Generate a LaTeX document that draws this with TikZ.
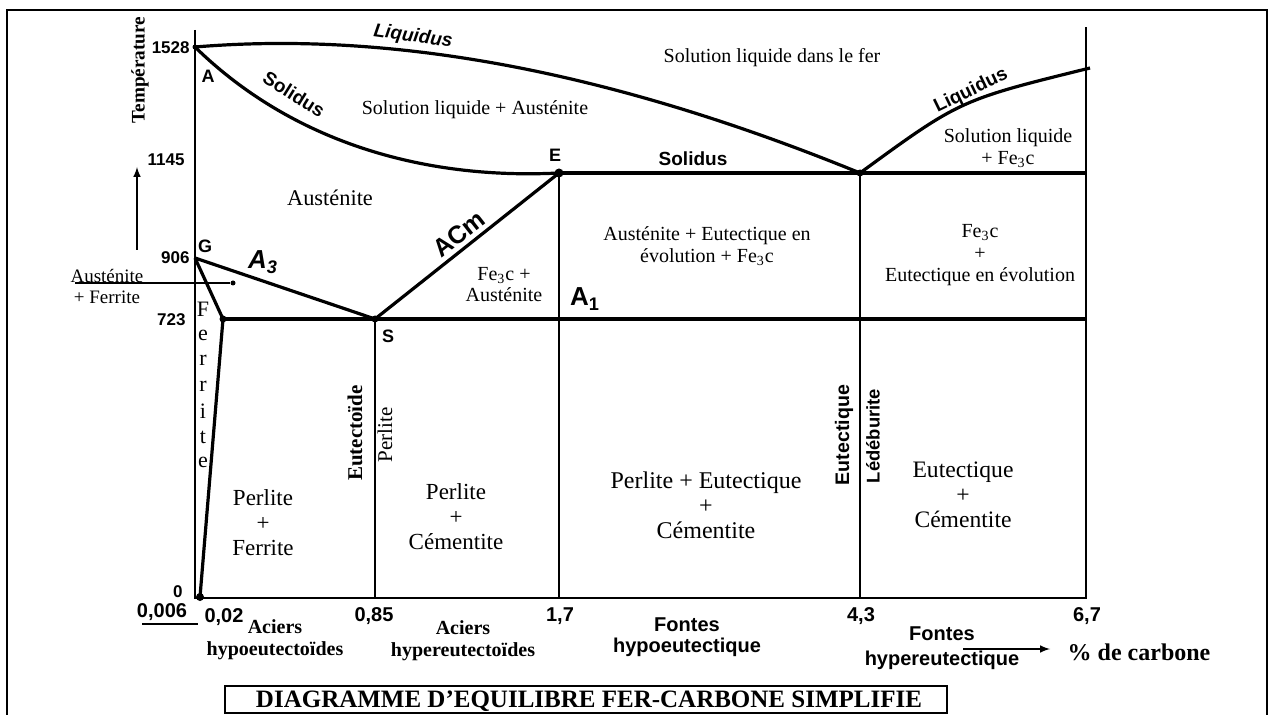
\documentclass[tikz,border=0pt]{standalone}
\usepackage{fontspec}
\setmainfont{Liberation Serif}
\setsansfont{Liberation Sans}
\usetikzlibrary{calc}

\begin{document}
\begin{tikzpicture}[x=0.5pt,y=-0.5pt,
  phaseline/.style={line width=1.6pt},
  gridline/.style={line width=0.7pt},
  region/.style={align=center,inner sep=0pt,font=\fontsize{10}{11}\selectfont},
  bigregion/.style={align=center,inner sep=0pt,font=\fontsize{11.5}{12.5}\selectfont},
  curvelabel/.style={inner sep=0pt,font=\sffamily\bfseries\fontsize{9.5}{11}\selectfont},
  pointlabel/.style={inner sep=0pt,font=\sffamily\bfseries\fontsize{9}{10}\selectfont},
  ticklabel/.style={inner sep=0pt,font=\sffamily\bfseries\fontsize{8.5}{10}\selectfont},
  xticklabel/.style={inner sep=0pt,font=\sffamily\bfseries\fontsize{10}{11}\selectfont},
  dotmark/.style={circle,fill=black,inner sep=0pt,minimum size=#1},
  dotmark/.default=3.5pt]
\useasboundingbox (0,0) rectangle (1272,715);

% Frame of the page
\draw[line width=1.2pt] (7,715) -- (7,10) -- (1267,10) -- (1267,715);

% Main points of the diagram
\coordinate (A) at (195,47);
\coordinate (G) at (195,258);
\coordinate (F) at (223,319);
\coordinate (S) at (375,319);
\coordinate (E) at (559,173);
\coordinate (C) at (860,173);
\coordinate (Z) at (200,597);
\coordinate (L) at (1090,68);
\coordinate (T) at (195,30);
\coordinate (O) at (195,598);
\coordinate (R) at (1086,598);
\coordinate (Rt) at (1086,27);

% Axes and vertical limits
\draw[gridline] (T) -- (O) -- (R) -- (Rt);
\draw[gridline] (S) -- (S |- O);
\draw[gridline] (E) -- (E |- O);
\draw[gridline] (C) -- (C |- O);

% Liquidus and solidus
\draw[phaseline] (A) .. controls (400,30) and (620,75) .. (C);
\draw[phaseline] (C) .. controls (960,100) .. (L);
\draw[phaseline] (A) .. controls (290,140) and (420,180) .. (E);
\draw[phaseline] (E) -- (E -| Rt);

% A3, Acm, A1 and the ferrite limit
\draw[phaseline] (G) -- (S) -- (E);
\draw[phaseline] (F) -- (F -| Rt);
\draw[phaseline] (G) -- (F) -- (Z);

% Points
\node[dotmark=2.5pt] (dA) at (A) {};
\node[dotmark] (dF) at (F) {};
\node[dotmark] (dS) at (S) {};
\node[dotmark=4.5pt] (dE) at (E) {};
\node[dotmark] (dC) at (C) {};
\node[dotmark=4pt] (dZ) at (Z) {};

\node[pointlabel] (lA) at (208,76) {A};
\node[pointlabel] (lG) at (205,246) {G};
\node[pointlabel] (lS) at (388,336) {S};
\node[pointlabel] (lE) at (555,155) {E};

% Temperatures
\node[ticklabel,anchor=east] (t1528) at (190,48) {1528};
\node[ticklabel,anchor=east] (t1145) at (185,160) {1145};
\node[ticklabel,anchor=east] (t906) at (190,258) {906};
\node[ticklabel,anchor=east] (t723) at (186,320) {723};
\node[ticklabel,anchor=east] (t0) at (183,592) {0};
\node[rotate=90,inner sep=0pt,font=\bfseries\fontsize{9.6}{11}\selectfont] (temp) at (140,70) {Température};
\coordinate (up0) at (137,250);
\coordinate (up1) at (137,167);
\draw[line width=0.7pt,-latex] (up0) -- (up1);

% Carbon contents
\node[xticklabel] (c0006) at (162,612) {0,006};
\coordinate (u0) at (142,624);
\coordinate (u1) at (198,624);
\draw[line width=0.6pt] (u0) -- (u1);
\node[xticklabel] (c002) at (224,617) {0,02};
\node[xticklabel] (c085) at (374,616) {0,85};
\node[xticklabel] (c17) at (560,616) {1,7};
\node[xticklabel] (c43) at (861,616) {4,3};
\node[xticklabel] (c67) at (1087,616) {6,7};

\node[align=center,inner sep=0pt,font=\bfseries\fontsize{10}{11}\selectfont] (acier1) at (275,640) {Aciers\\hypoeutectoïdes};
\node[align=center,inner sep=0pt,font=\bfseries\fontsize{10}{11}\selectfont] (acier2) at (463,641) {Aciers\\hypereutectoïdes};
\node[align=center,inner sep=0pt,font=\sffamily\bfseries\fontsize{10}{10.5}\selectfont] (fonte1) at (687,637) {Fontes\\hypoeutectique};
\node[align=center,inner sep=0pt,font=\sffamily\bfseries\fontsize{10}{12.5}\selectfont] (fonte2) at (942,648) {Fontes\\hypereutectique};
\node[inner sep=0pt,font=\bfseries\fontsize{12}{13}\selectfont] (carb) at (1139,652) {\% de carbone};
\coordinate (ar0) at (963,649);
\coordinate (ar1) at (1050,649);
\draw[line width=0.7pt,-latex] (ar0) -- (ar1);

% Curve names
\node[curvelabel,font=\sffamily\bfseries\itshape\fontsize{9.5}{11}\selectfont,rotate=-8] (liq1) at (413,37) {Liquidus};
\node[curvelabel,rotate=-32] (sol1) at (294,94) {Solidus};
\node[curvelabel] (sol2) at (693,159) {Solidus};
\node[curvelabel,rotate=26] (liq2) at (971,91) {Liquidus};
\node[inner sep=0pt,font=\sffamily\bfseries\itshape\fontsize{13}{14}\selectfont] (a3) at (263,262) {A\textsubscript{3}};
\node[inner sep=0pt,font=\sffamily\bfseries\fontsize{13}{14}\selectfont] (a1) at (585,299) {A\textsubscript{1}};
\node[inner sep=0pt,font=\sffamily\bfseries\fontsize{12.5}{14}\selectfont,rotate=38] (acm) at (459,234) {ACm};

% Phase regions
\node[region] (liq) at (772,58) {Solution liquide dans le fer};
\node[region] (liqaus) at (475,110) {Solution liquide + Austénite};
\node[region] (liqfe) at (1008,148) {Solution liquide\\+ Fe\textsubscript{3}c};
\node[bigregion,font=\fontsize{11.2}{12}\selectfont] (aus) at (330,198) {Austénite};
\node[region,font=\fontsize{10}{10.5}\selectfont] (feaus) at (504,285) {Fe\textsubscript{3}c +\\Austénite};
\node[region] (auseut) at (707,246) {Austénite + Eutectique en\\évolution + Fe\textsubscript{3}c};
\node[region] (feeut) at (980,255) {Fe\textsubscript{3}c\\+\\Eutectique en évolution};
\node[region,font=\fontsize{9.5}{10.5}\selectfont] (ausfer) at (107,286) {Austénite\\+ Ferrite};
\coordinate (ld0) at (75,283);
\node[dotmark=2.5pt] (ld1) at (233,283) {};
\draw[line width=0.7pt] (ld0) -- (ld1);

\foreach \l [count=\i] in {F,e,r,r,i,t,e}
  \node[inner sep=0pt,font=\fontsize{11}{12}\selectfont] (fer\i) at (203,284+25.5*\i) {\l};

\node[bigregion] (perfer) at (263,523) {Perlite\\+\\Ferrite};
\node[bigregion] (percem) at (456,517) {Perlite\\+\\Cémentite};
\node[bigregion,font=\fontsize{12}{12.5}\selectfont] (pereut) at (706,505) {Perlite + Eutectique\\+\\Cémentite};
\node[bigregion,font=\fontsize{11.8}{12.5}\selectfont] (eutcem) at (963,495) {Eutectique\\+\\Cémentite};

\node[rotate=90,inner sep=0pt,font=\bfseries\fontsize{10.5}{12}\selectfont] (eutd) at (355,433) {Eutectoïde};
\node[rotate=90,inner sep=0pt,font=\fontsize{10.5}{12}\selectfont] (perl) at (385,435) {Perlite};
\node[rotate=90,inner sep=0pt,font=\sffamily\bfseries\fontsize{9.8}{11}\selectfont] (eutq) at (844,435) {Eutectique};
\node[rotate=90,inner sep=0pt,font=\sffamily\bfseries\fontsize{9.2}{11}\selectfont] (ledb) at (873,436) {Lédéburite};

% Title
\coordinate (tb0) at (225,686);
\coordinate (tb1) at (947,713);
\draw[line width=0.9pt] (tb0) rectangle (tb1);
\node[inner sep=0pt,font=\bfseries\fontsize{12.5}{14}\selectfont] (title) at (589,701) {DIAGRAMME D’EQUILIBRE FER-CARBONE SIMPLIFIE};

\end{tikzpicture}
\end{document}
